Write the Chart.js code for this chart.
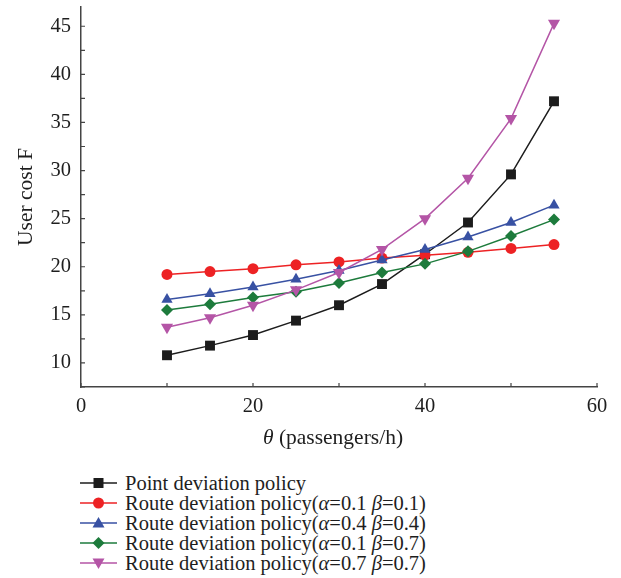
<!DOCTYPE html>
<html>
<head>
<meta charset="utf-8">
<script src="https://cdn.jsdelivr.net/npm/chart.js@4.4.0/dist/chart.umd.min.js"></script>
<style>
  body { margin: 0; background: #fff; }
  #wrap { position: relative; width: 621px; height: 578px; }
  #chartBox { position: absolute; left: 0; top: 0; width: 621px; height: 455px; }
  #legend { position: absolute; left: 80px; top: 473px; font-family: "Liberation Serif", serif; font-size: 20.5px; color: #1e1e1e; }
  .row { display: flex; align-items: center; height: 20px; line-height: 20px; white-space: nowrap; }
  .row svg { margin-right: 8px; flex: none; }
</style>
</head>
<body>
<div id="wrap">
  <div id="chartBox"><canvas id="costChart"></canvas></div>
  <div id="legend"></div>
</div>
<script>
// 数据 - 用户成本随需求变化
const thetaValues = [10, 15, 20, 25, 30, 35, 40, 45, 50, 55];
const pointDeviation = [10.8, 11.8, 12.9, 14.4, 16.0, 18.2, 21.3, 24.6, 29.6, 37.2];
const routeA01B01 = [19.2, 19.5, 19.8, 20.2, 20.5, 20.9, 21.2, 21.5, 21.9, 22.3];
const routeA04B04 = [16.6, 17.2, 17.9, 18.7, 19.6, 20.7, 21.8, 23.1, 24.6, 26.4];
const routeA01B07 = [15.5, 16.1, 16.8, 17.4, 18.3, 19.4, 20.3, 21.6, 23.2, 24.9];
const routeA07B07 = [13.7, 14.7, 16.0, 17.6, 19.4, 21.8, 25.0, 29.2, 35.4, 45.3];

const xTickValues = [0, 10, 20, 30, 40, 50, 60];
const xLabelValues = [0, 20, 40, 60];
const yTickValues = [7.5, 10, 12.5, 15, 17.5, 20, 22.5, 25, 27.5, 30, 32.5, 35, 37.5, 40, 42.5, 45];
const yLabelValues = [10, 15, 20, 25, 30, 35, 40, 45];

const FONT = '"Liberation Serif", serif';
const TEXT_COLOR = '#1e1e1e';

const seriesList = [
  { label: 'Point deviation policy', html: 'Point deviation policy', data: pointDeviation, color: '#1c1c1c', style: 'rect', radius: 7 },
  { label: 'Route deviation policy(α=0.1 β=0.1)', html: 'Route deviation policy(<i>α</i>=0.1 <i>β</i>=0.1)', data: routeA01B01, color: '#ed2224', style: 'circle', radius: 5.5 },
  { label: 'Route deviation policy(α=0.4 β=0.4)', html: 'Route deviation policy(<i>α</i>=0.4 <i>β</i>=0.4)', data: routeA04B04, color: '#3851a3', style: 'triangle', radius: 6.5 },
  { label: 'Route deviation policy(α=0.1 β=0.7)', html: 'Route deviation policy(<i>α</i>=0.1 <i>β</i>=0.7)', data: routeA01B07, color: '#1d7b3c', style: 'rectRot', radius: 6 },
  { label: 'Route deviation policy(α=0.7 β=0.7)', html: 'Route deviation policy(<i>α</i>=0.7 <i>β</i>=0.7)', data: routeA07B07, color: '#b455a6', style: 'triangle', radius: 7, rotation: 180 }
];

// 内侧刻度 + x轴标题
const innerTicksPlugin = {
  id: 'innerTicks',
  afterDraw(chart) {
    const ctx = chart.ctx;
    const xs = chart.scales.x;
    const ys = chart.scales.y;
    const area = chart.chartArea;
    ctx.save();
    ctx.strokeStyle = '#444';
    ctx.lineWidth = 1.2;
    ctx.beginPath();
    xTickValues.forEach(v => {
      const px = xs.getPixelForValue(v);
      ctx.moveTo(px, area.bottom);
      ctx.lineTo(px, area.bottom - 4);
    });
    yTickValues.forEach(v => {
      const py = ys.getPixelForValue(v);
      ctx.moveTo(area.left, py);
      ctx.lineTo(area.left + 4, py);
    });
    ctx.stroke();

    // x轴标题 (θ 斜体)
    const part1 = 'θ';
    const part2 = ' (passengers/h)';
    ctx.fillStyle = TEXT_COLOR;
    ctx.textBaseline = 'middle';
    ctx.font = 'italic 21.5px ' + FONT;
    const w1 = ctx.measureText(part1).width;
    ctx.font = '21.5px ' + FONT;
    const w2 = ctx.measureText(part2).width;
    const cx = 333;
    const startX = cx - (w1 + w2) / 2;
    ctx.font = 'italic 21.5px ' + FONT;
    ctx.fillText(part1, startX, 438);
    ctx.font = '21.5px ' + FONT;
    ctx.fillText(part2, startX + w1, 438);
    ctx.restore();
  }
};

function buildDatasets() {
  return seriesList.map((s, i) => ({
    label: s.label,
    data: thetaValues.map((x, j) => ({ x: x, y: s.data[j] })),
    borderColor: s.color,
    backgroundColor: s.color,
    borderWidth: 1.5,
    pointStyle: s.style,
    pointRadius: s.radius,
    pointHoverRadius: s.radius,
    pointRotation: s.rotation || 0,
    pointBorderWidth: 0,
    pointBackgroundColor: s.color,
    tension: 0,
    fill: false,
    order: seriesList.length - i
  }));
}

function initCostChart() {
  const canvas = document.getElementById('costChart');
  new Chart(canvas, {
    type: 'line',
    data: { datasets: buildDatasets() },
    options: {
      responsive: true,
      maintainAspectRatio: false,
      animation: false,
      layout: { padding: { top: 4, right: 24, left: 0, bottom: 0 } },
      plugins: {
        legend: { display: false },
        tooltip: { enabled: false }
      },
      scales: {
        x: {
          type: 'linear',
          min: 0,
          max: 60,
          afterBuildTicks: scale => { scale.ticks = xTickValues.map(v => ({ value: v })); },
          afterFit: scale => { scale.height = 455 - 387; scale.paddingLeft = 0; },
          grid: { display: true, drawOnChartArea: false, drawTicks: false },
          border: { display: true, color: '#444', width: 1.5 },
          ticks: {
            padding: 7,
            color: TEXT_COLOR,
            font: { family: FONT, size: 20.5 },
            maxRotation: 0,
            autoSkip: false,
            callback: v => (xLabelValues.includes(v) ? String(v) : '')
          }
        },
        y: {
          min: 7.5,
          max: 47,
          afterBuildTicks: scale => { scale.ticks = yTickValues.map(v => ({ value: v })); },
          afterFit: scale => { scale.width = 81; scale.paddingTop = 0; scale.paddingBottom = 0; },
          grid: { display: true, drawOnChartArea: false, drawTicks: false },
          border: { display: true, color: '#444', width: 1.5 },
          title: {
            display: true,
            text: 'User cost F',
            color: TEXT_COLOR,
            font: { family: FONT, size: 21.5 },
            padding: { top: 13, bottom: 0 }
          },
          ticks: {
            padding: 10,
            color: TEXT_COLOR,
            font: { family: FONT, size: 20.5 },
            autoSkip: false,
            callback: v => (yLabelValues.includes(v) ? String(v) : '')
          }
        }
      }
    },
    plugins: [innerTicksPlugin]
  });
}

// HTML 图例 (带斜体希腊字母)
function markerSvg(s) {
  const c = s.color;
  const cx = 18.5, cy = 10;
  let shape = '';
  if (s.style === 'rect') {
    shape = `<rect x="${cx - 5}" y="${cy - 5}" width="10" height="10" fill="${c}"/>`;
  } else if (s.style === 'circle') {
    shape = `<circle cx="${cx}" cy="${cy}" r="5.5" fill="${c}"/>`;
  } else if (s.style === 'rectRot') {
    shape = `<polygon points="${cx},${cy - 6} ${cx + 6},${cy} ${cx},${cy + 6} ${cx - 6},${cy}" fill="${c}"/>`;
  } else if (s.rotation) {
    shape = `<polygon points="${cx - 6},${cy - 4.5} ${cx + 6},${cy - 4.5} ${cx},${cy + 6}" fill="${c}"/>`;
  } else {
    shape = `<polygon points="${cx - 6},${cy + 4.5} ${cx + 6},${cy + 4.5} ${cx},${cy - 6}" fill="${c}"/>`;
  }
  return `<svg width="37" height="20"><line x1="0" y1="${cy}" x2="37" y2="${cy}" stroke="${c}" stroke-width="1.5"/>${shape}</svg>`;
}

function buildLegend() {
  const box = document.getElementById('legend');
  box.innerHTML = seriesList.map(s => `<div class="row">${markerSvg(s)}<span>${s.html}</span></div>`).join('');
}

buildLegend();
initCostChart();
</script>
</body>
</html>
